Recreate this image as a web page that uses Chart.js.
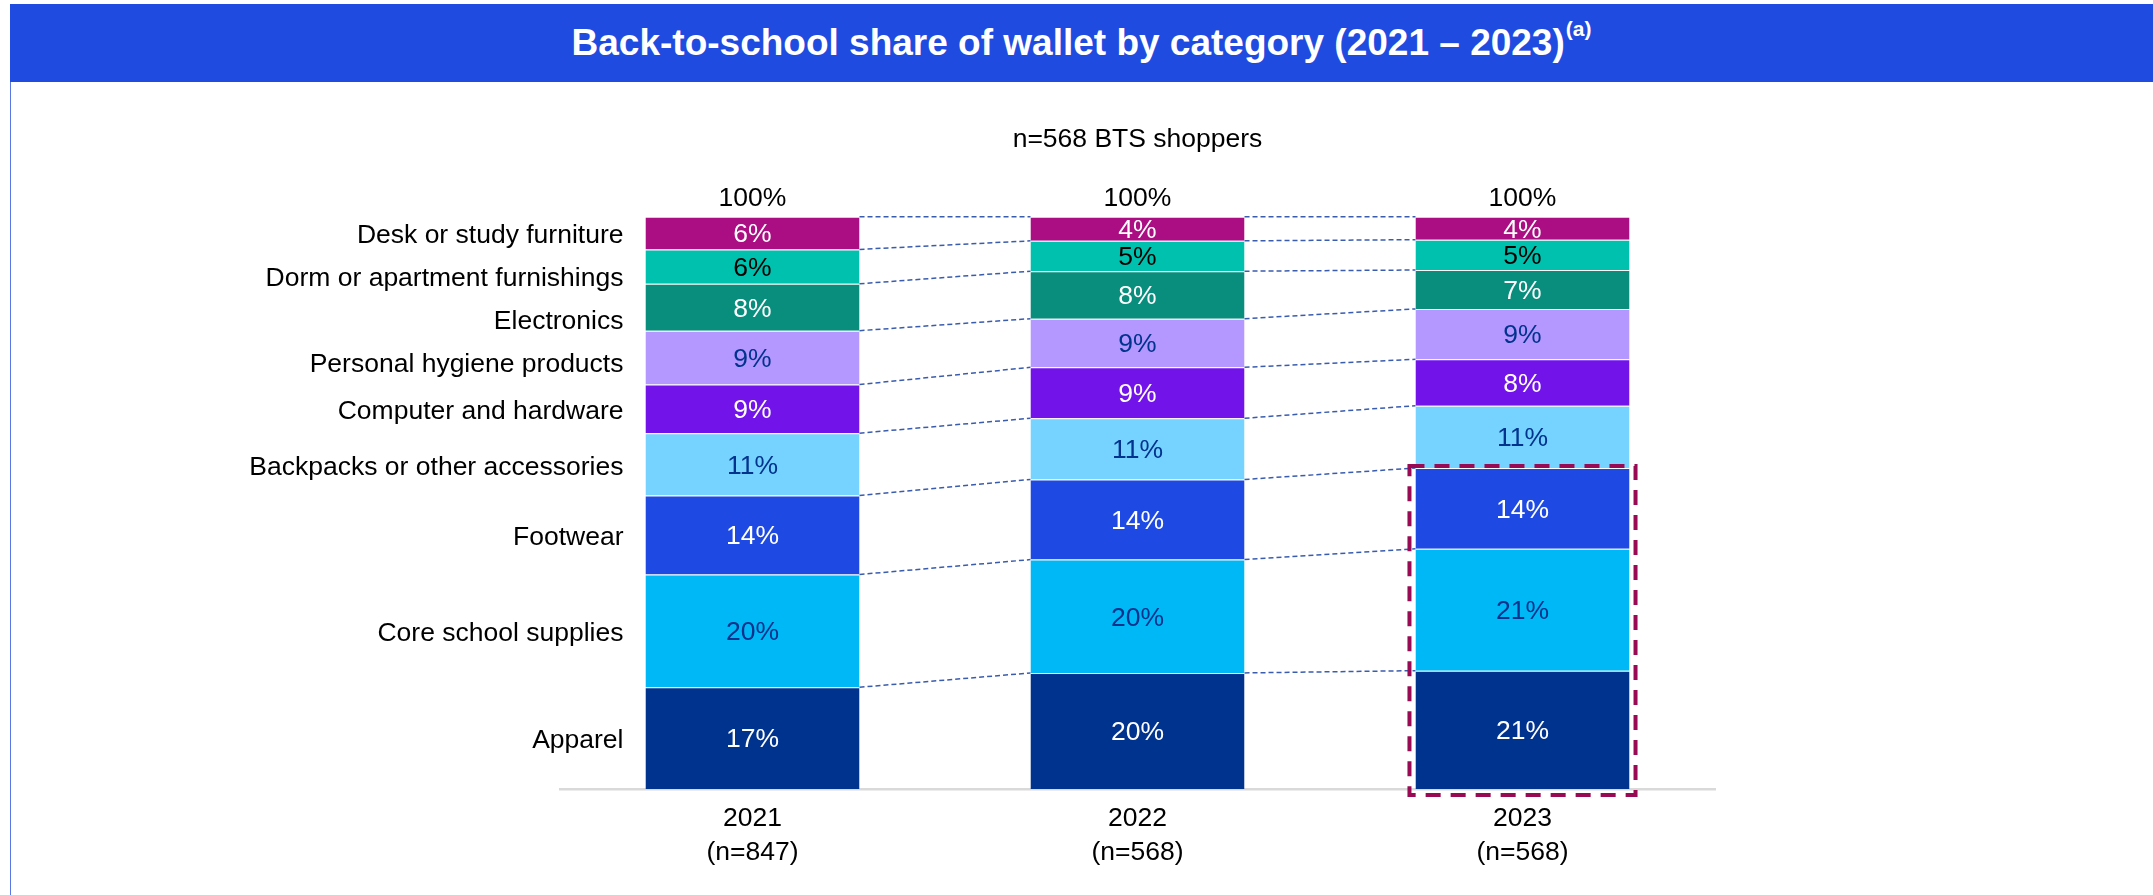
<!DOCTYPE html>
<html>
<head>
<meta charset="utf-8">
<title>Back-to-school share of wallet</title>
<script src="https://cdn.jsdelivr.net/npm/chart.js@4.4.1/dist/chart.umd.min.js"></script>
<style>
  html, body { margin: 0; padding: 0; background: #fff; width: 2153px; height: 895px; overflow: hidden; font-family: "Liberation Sans", Arial, sans-serif; }
  #header { position: absolute; left: 10px; top: 4px; width: 2143px; height: 78px; background: #1f4be0; color: #fff; font-weight: bold; font-size: 37px; display: flex; align-items: center; justify-content: center; z-index: 2; white-space: nowrap; }
  #header .note { font-size: 21px; position: relative; top: -14px; margin-left: 1px; }
  #edge { position: absolute; left: 10px; top: 82px; width: 1px; height: 813px; background: #5a77e6; z-index: 2; }
  #chart { position: absolute; left: 0; top: 0; }
</style>
</head>
<body>
<div id="header">Back-to-school share of wallet by category (2021 – 2023)<span class="note">(a)</span></div>
<div id="edge"></div>
<canvas id="chart" width="2153" height="895"></canvas>
<script>
// --- data (categories listed top to bottom, as in the stack) ---
const subtitle = 'n=568 BTS shoppers';
const years = ['2021', '2022', '2023'];
const sampleSizes = ['(n=847)', '(n=568)', '(n=568)'];
const totals = ['100%', '100%', '100%'];

const categories = [
  'Desk or study furniture',
  'Dorm or apartment furnishings',
  'Electronics',
  'Personal hygiene products',
  'Computer and hardware',
  'Backpacks or other accessories',
  'Footwear',
  'Core school supplies',
  'Apparel'
];

// segment sizes as drawn (% of wallet)
const share2021 = [5.7, 6.0, 8.2, 9.4, 8.5, 10.9, 13.8, 19.7, 17.8];
const share2022 = [4.2, 5.3, 8.3, 8.5, 8.9, 10.7, 14.0, 19.8, 20.3];
const share2023 = [4.0, 5.3, 6.8, 8.8, 8.1, 10.9, 14.1, 21.3, 20.7];

// values printed inside the segments
const printed2021 = [6, 6, 8, 9, 9, 11, 14, 20, 17];
const printed2022 = [4, 5, 8, 9, 9, 11, 14, 20, 20];
const printed2023 = [4, 5, 7, 9, 8, 11, 14, 21, 21];

const segmentColors = ['#ab0d82', '#00c0ae', '#098e7e', '#b497ff', '#7213ea', '#76d2ff', '#1e49e2', '#00b8f5', '#00338d'];
const textColors = ['#ffffff', '#000000', '#ffffff', '#00338d', '#ffffff', '#00338d', '#ffffff', '#00338d', '#ffffff'];

const FONT = '"Liberation Sans", Arial, sans-serif';
const TEXT_SIZE = 26.5;
Chart.defaults.font.family = FONT;

const shares = [share2021, share2022, share2023];
const printed = [printed2021, printed2022, printed2023];

// Chart.js stacks from the first dataset upward, so Apparel goes first
const datasets = categories.map((name, c) => ({
  label: name,
  data: shares.map(s => s[c]),
  shown: printed.map(p => p[c]),
  backgroundColor: segmentColors[c],
  textColor: textColors[c],
  borderColor: 'rgba(255,255,255,0.4)',
  borderWidth: { top: 1, left: 0, right: 0, bottom: 0 },
  borderSkipped: 'start'
})).reverse();

// connectors, labels and the highlight box around 2023
const decorPlugin = {
  id: 'decor',
  afterDatasetsDraw(chart) {
    const ctx = chart.ctx;
    const metas = chart.data.datasets.map((d, i) => chart.getDatasetMeta(i));

    // dashed lines joining the same boundary between bars
    ctx.save();
    ctx.setLineDash([5, 3]);
    ctx.lineWidth = 1.5;
    ctx.strokeStyle = '#3a5cae';
    metas.forEach(meta => {
      for (let i = 0; i < meta.data.length - 1; i++) {
        const a = meta.data[i];
        const b = meta.data[i + 1];
        ctx.beginPath();
        ctx.moveTo(a.x + a.width / 2, a.y);
        ctx.lineTo(b.x - b.width / 2, b.y);
        ctx.stroke();
      }
    });
    ctx.restore();

    ctx.save();
    ctx.font = TEXT_SIZE + 'px ' + FONT;
    ctx.textAlign = 'center';
    ctx.textBaseline = 'middle';

    // value labels inside each segment
    metas.forEach((meta, di) => {
      const ds = chart.data.datasets[di];
      ctx.fillStyle = ds.textColor;
      meta.data.forEach((el, j) => {
        ctx.fillText(ds.shown[j] + '%', el.x, (el.y + el.base) / 2 + 2);
      });
    });

    // 100% over each bar
    ctx.fillStyle = '#000';
    const topMeta = metas[metas.length - 1];
    topMeta.data.forEach((el, j) => {
      ctx.fillText(totals[j], el.x, el.y - 18);
    });

    // category names left of the first bar, pushed apart when crowded
    ctx.textAlign = 'right';
    let prevY = -Infinity;
    for (let di = metas.length - 1; di >= 0; di--) {
      const el = metas[di].data[0];
      const y = Math.max((el.y + el.base) / 2 + 3, prevY + 43);
      ctx.fillText(chart.data.datasets[di].label, el.x - el.width / 2 - 22, y);
      prevY = y;
    }
    ctx.restore();

    // dashed box around Apparel, Core school supplies and Footwear in 2023
    const last = metas[0].data.length - 1;
    const bottomEl = metas[0].data[last];
    const topEl = metas[2].data[last];
    ctx.save();
    ctx.setLineDash([15, 10]);
    ctx.lineWidth = 4;
    ctx.strokeStyle = '#990a55';
    const left = bottomEl.x - bottomEl.width / 2 - 6;
    const right = bottomEl.x + bottomEl.width / 2 + 6;
    const top = topEl.y - 2;
    const bottom = bottomEl.base + 6;
    ctx.strokeRect(left, top, right - left, bottom - top);
    ctx.restore();
  }
};

new Chart(document.getElementById('chart'), {
  type: 'bar',
  data: {
    labels: years.map((y, i) => [y, sampleSizes[i]]),
    datasets: datasets
  },
  options: {
    responsive: false,
    animation: false,
    layout: { padding: { left: 560, right: 438, top: 0, bottom: 13 } },
    datasets: { bar: { categoryPercentage: 1, barPercentage: 0.556 } },
    plugins: {
      legend: { display: false },
      tooltip: { enabled: false },
      title: {
        display: true,
        text: subtitle,
        fullSize: false,
        color: '#000',
        font: { size: TEXT_SIZE, weight: 'normal' },
        padding: { top: 124, bottom: 61 }
      }
    },
    scales: {
      x: {
        stacked: true,
        grid: { display: false, drawTicks: false },
        border: { display: true, color: '#d9d9d9', width: 2.5 },
        ticks: { color: '#000', font: { size: TEXT_SIZE, lineHeight: 1.3 }, padding: 12 }
      },
      y: { stacked: true, display: false, min: 0, max: 100 }
    }
  },
  plugins: [decorPlugin]
});
</script>
</body>
</html>
